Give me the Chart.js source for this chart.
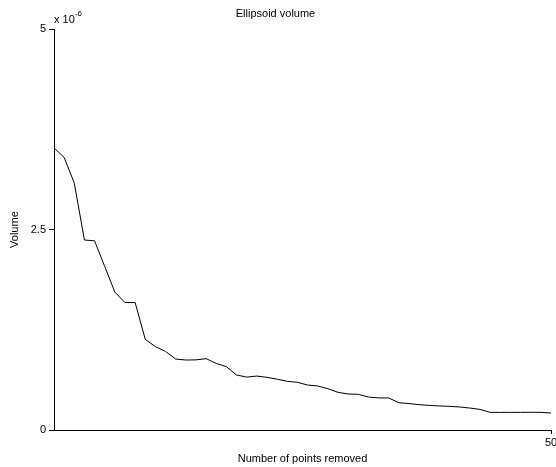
<!DOCTYPE html>
<html>
<head>
<meta charset="utf-8">
<script src="https://cdn.jsdelivr.net/npm/chart.js@4"></script>
<style>
  html, body { margin: 0; padding: 0; overflow: hidden; background: #fff; }
  #wrap { position: absolute; left: 0; top: 0; width: 562px; height: 467px; }
</style>
</head>
<body>
<div id="wrap"><canvas id="myLines" width="562" height="467"></canvas></div>
<script>
// number of points removed
var removed = [1, 2, 3, 4, 5, 6, 7, 8, 9, 10,
    11, 12, 13, 14, 15, 16, 17, 18, 19, 20,
    21, 22, 23, 24, 25, 26, 27, 28, 29, 30,
    31, 32, 33, 34, 35, 36, 37, 38, 39, 40,
    41, 42, 43, 44, 45, 46, 47, 48, 49, 50];
// ellipsoid volume, in units of 1e-6
var volume = [3.52, 3.40, 3.08, 2.37, 2.36, 2.04, 1.72, 1.59, 1.59, 1.13,
    1.04, 0.98, 0.885, 0.873, 0.875, 0.89, 0.83, 0.79, 0.686, 0.66,
    0.673, 0.657, 0.634, 0.607, 0.595, 0.561, 0.549, 0.515, 0.47, 0.449,
    0.445, 0.411, 0.40, 0.40, 0.34, 0.33, 0.316, 0.307, 0.30, 0.295,
    0.287, 0.274, 0.257, 0.22, 0.22, 0.22, 0.22, 0.221, 0.22, 0.212];
var yTicks = [0, 2.5, 5];
var xTicks = [50];
var exponent = '-6';

var fontFam = '"Liberation Sans", Arial, sans-serif';

var points = removed.map(function (n, i) { return { x: n, y: volume[i] }; });

// draws the "x 10^-6" multiplier above the y axis
var expLabel = {
    id: 'expLabel',
    afterDraw: function (chart) {
        var c = chart.ctx, a = chart.chartArea;
        c.save();
        c.fillStyle = '#000';
        c.textBaseline = 'middle';
        c.textAlign = 'left';
        c.font = '11px ' + fontFam;
        c.fillText('x 10', a.left, a.top - 9);
        var w = c.measureText('x 10').width;
        c.font = '8px ' + fontFam;
        c.fillText(exponent, a.left + w, a.top - 15);
        c.restore();
    }
};

var ctx = document.getElementById('myLines');
var myLines = new Chart(ctx, {
    type: 'line',
    data: {
        datasets: [{
            label: 'Volume',
            data: points,
            borderColor: '#000',
            borderWidth: 1,
            pointRadius: 0,
            tension: 0,
            fill: false
        }]
    },
    options: {
        responsive: false,
        animation: false,
        devicePixelRatio: 1,
        layout: { padding: { left: 0, right: 11, top: 0, bottom: 0 } },
        plugins: {
            legend: { display: false },
            tooltip: { enabled: false },
            title: {
                display: true,
                text: 'Ellipsoid volume',
                color: '#000',
                font: { family: fontFam, size: 11, weight: 'normal' },
                padding: { top: 7, bottom: 9 }
            }
        },
        scales: {
            x: {
                type: 'linear',
                min: 1,
                max: 50,
                afterBuildTicks: function (s) { s.ticks = xTicks.map(function (v) { return { value: v }; }); },
                afterFit: function (s) { s.height = 37; },
                grid: { drawOnChartArea: false, drawTicks: true, tickLength: 4, color: '#000' },
                border: { display: true, color: '#000', width: 1 },
                ticks: { color: '#000', padding: 2, maxRotation: 0, font: { family: fontFam, size: 11 } },
                title: {
                    display: true,
                    text: 'Number of points removed',
                    color: '#000',
                    font: { family: fontFam, size: 11 },
                    padding: { top: 0, bottom: 1 }
                }
            },
            y: {
                min: 0,
                max: 5,
                afterBuildTicks: function (s) { s.ticks = yTicks.map(function (v) { return { value: v }; }); },
                afterFit: function (s) { s.width = 54; },
                grid: { drawOnChartArea: false, drawTicks: true, tickLength: 5, color: '#000' },
                border: { display: true, color: '#000', width: 1 },
                ticks: { color: '#000', padding: 3, font: { family: fontFam, size: 11 } },
                title: {
                    display: true,
                    text: 'Volume',
                    color: '#000',
                    font: { family: fontFam, size: 11 },
                    padding: { top: 8, bottom: 0 }
                }
            }
        }
    },
    plugins: [expLabel]
});
</script>
</body>
</html>
